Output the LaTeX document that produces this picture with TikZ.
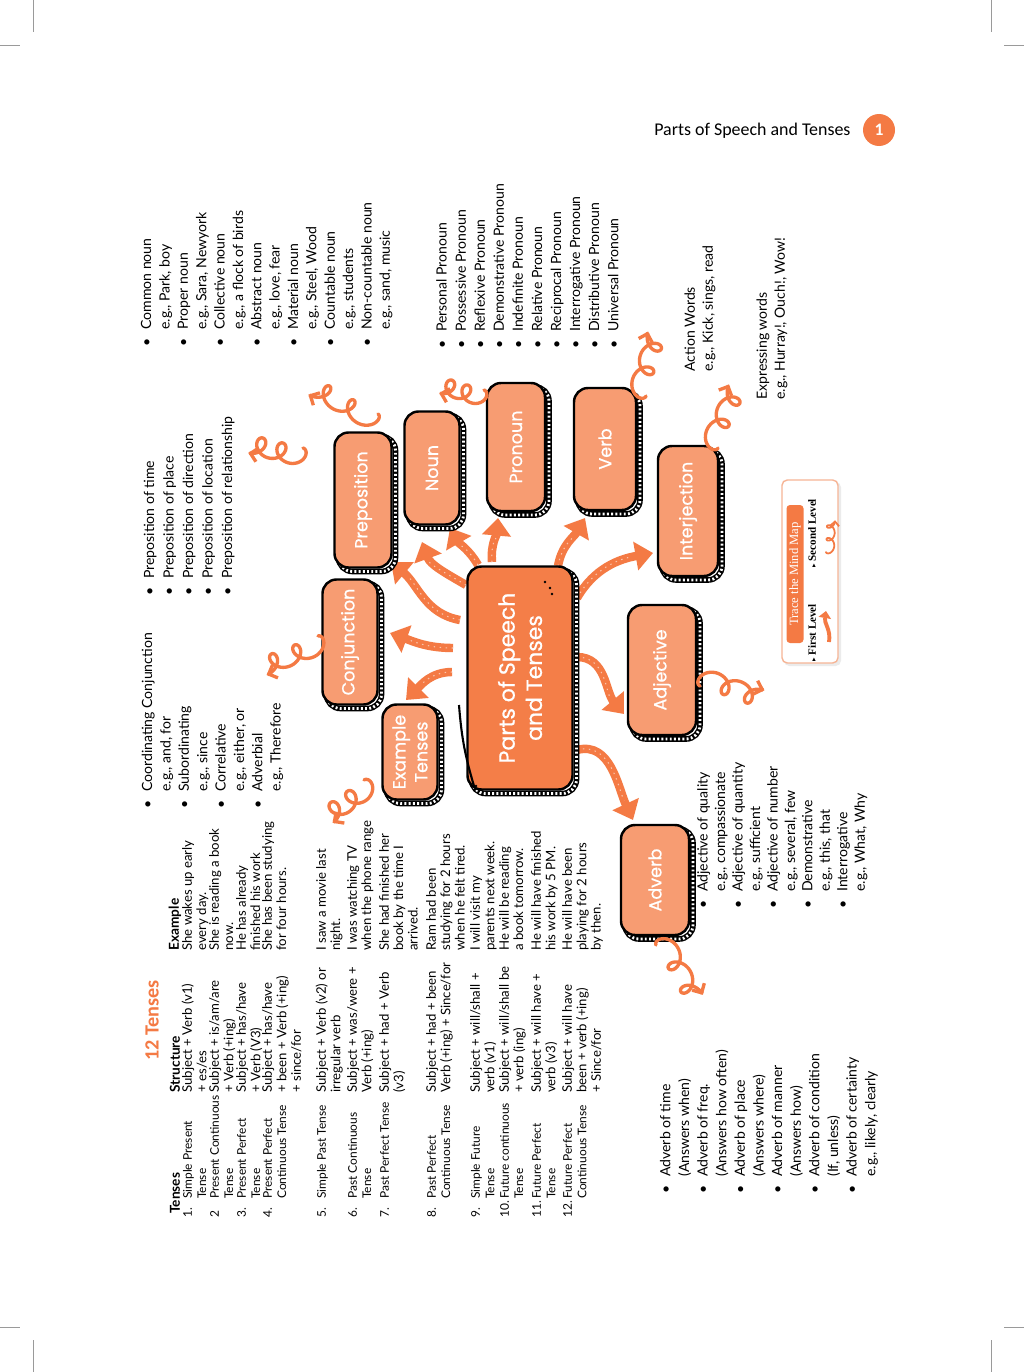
\documentclass[tikz,border=0pt]{standalone}
\usepackage{fontspec}
\setmainfont{Lato}
\newfontfamily\popfont[FakeBold=0.7]{Poppins}
\newfontfamily\calfont{Carlito}
\newfontfamily\serffont{Liberation Serif}
\newfontfamily\djfont{DejaVu Sans}
\usetikzlibrary{arrows.meta}
\definecolor{mainor}{HTML}{F47E48}
\definecolor{subor}{HTML}{F79C72}
\definecolor{arrowor}{HTML}{F47A44}
\definecolor{legbd}{HTML}{F6B596}
\definecolor{cropgr}{HTML}{9A9A9A}
\newcommand\tfont{\fontsize{7.5}{8.2}\selectfont}
\newcommand\lfont[1]{\fontsize{8}{#1}\selectfont}
\newcommand\bigt{\fontsize{12.5}{16}\selectfont}
\newcommand\mmnode[7]{%
  \draw[line width=3.2pt, rounded corners=8pt] (#2-#4/2+4,#3-#5/2+4) rectangle (#2+#4/2+4,#3+#5/2+4);
  \draw[line width=1.6pt, white, dash pattern=on 1.1pt off 1.3pt, rounded corners=8pt] (#2-#4/2+4,#3-#5/2+4) rectangle (#2+#4/2+4,#3+#5/2+4);
  \node[mmbox, fill=#6, minimum width=#5*0.02cm, minimum height=#4*0.02cm] (#1) at (#2,#3) {#7};
}
\newcommand\curl[6]{%
  \coordinate (#1) at (#2,#3);
  \draw[curlst, shift={(#1)}, rotate=#4] plot[domain=0:15.708, samples=110, smooth] ({\x*#5/15.708-#6*sin(\x r)}, {#6*cos(\x r)-#6});
}
\newcommand\trow[6]{%
  \node[tbl, font=\fontsize{6.8}{8.2}\selectfont] (#1n) at (#2-6.6,1218) {\begin{tabular}{@{}l@{}}#3\end{tabular}};
  \node[tbl, font=\fontsize{6.8}{8.2}\selectfont] (#1t) at (#2-6.6,1199) {\begin{tabular}{@{}l@{}}#4\end{tabular}};
  \node[tbl] (#1s) at (#2-6.6,1093) {\begin{tabular}{@{}l@{}}#5\end{tabular}};
  \node[tbl] (#1e) at (#2-6.6,951) {\begin{tabular}{@{}l@{}}#6\end{tabular}};
}
\begin{document}
\begin{tikzpicture}[x=0.02cm,y=-0.02cm,
  mmbox/.style={rotate=90, draw=black, line width=1.4pt, rounded corners=8pt, text=white, align=center, inner sep=0pt, font=\popfont\fontsize{10}{12.5}\selectfont},
  lst/.style={rotate=90, anchor=north west, inner sep=0pt},
  tbl/.style={rotate=90, anchor=north west, inner sep=0pt, font=\tfont},
  hdr/.style={rotate=90, anchor=west, inner sep=0pt, font=\bfseries\fontsize{7.8}{9}\selectfont},
  bigarrow/.style={draw=arrowor, line width=4.8pt, -{Triangle[length=10pt,width=16pt]},
    postaction={draw=white!55!arrowor, line width=0.6pt, dash pattern=on 0.8pt off 2.6pt, shorten >=12pt, -}},
  curlst/.style={draw=arrowor, line width=1.9pt, line cap=round, -{Straight Barb[length=4pt,width=8pt]}},
  cropst/.style={draw=cropgr, line width=0.5pt}]
\fill[white] (0,0) rectangle (1024,1372);
\useasboundingbox (0,0) rectangle (1024,1372);

% crop marks
\draw[cropst] (33,0) -- (33,32);
\draw[cropst] (0,45) -- (20,45);
\draw[cropst] (991,0) -- (991,32);
\draw[cropst] (1004,45) -- (1024,45);
\draw[cropst] (33,1340) -- (33,1372);
\draw[cropst] (0,1327) -- (20,1327);
\draw[cropst] (991,1340) -- (991,1372);
\draw[cropst] (1004,1327) -- (1024,1327);

% header
\node[anchor=west, inner sep=0pt, font=\calfont\fontsize{10.2}{12}\selectfont] (hdrtext) at (654,131) {Parts of Speech and Tenses};
\node[circle, fill=arrowor, minimum size=32*0.02cm, inner sep=0pt, text=white, font=\calfont\bfseries\fontsize{10}{12}\selectfont] (pagenum) at (879,130) {1};

% thick arrows from the centre
\coordinate (a1s) at (452,672); \coordinate (a1e) at (406,700);
\coordinate (a2s) at (453,648); \coordinate (a2e) at (390,633);
\coordinate (a3s) at (460,620); \coordinate (a3e) at (391,562);
\coordinate (a4s) at (466,585); \coordinate (a4e) at (422,542);
\coordinate (a5s) at (478,565); \coordinate (a5e) at (450,528);
\coordinate (a6s) at (492,562); \coordinate (a6e) at (498,518);
\coordinate (a7s) at (558,566); \coordinate (a7e) at (585,518);
\coordinate (a8s) at (577,598); \coordinate (a8e) at (653,553);
\coordinate (a9s) at (577,657); \coordinate (a9e) at (624,714);
\coordinate (a10s) at (577,750); \coordinate (a10e) at (633,820);
\draw[bigarrow] (a1s) to[out=180,in=45] (a1e);
\draw[bigarrow] (a2s) to[out=180,in=-20] (a2e);
\draw[bigarrow] (a3s) to[out=170,in=-40] (a3e);
\draw[bigarrow] (a4s) to[out=150,in=-70] (a4e);
\draw[bigarrow] (a5s) to[out=120,in=-60] (a5e);
\draw[bigarrow] (a6s) to[out=95,in=-95] (a6e);
\draw[bigarrow] (a7s) to[out=80,in=-120] (a7e);
\draw[bigarrow] (a8s) to[out=60,in=190] (a8e);
\draw[bigarrow] (a9s) to[out=0,in=130] (a9e);
\draw[bigarrow] (a10s) to[out=15,in=115] (a10e);

% mind map boxes
\mmnode{center}{520}{678}{105}{223}{mainor}{{\bigt Parts of Speech}\\[3pt]{\bigt and Tenses}}
\mmnode{extense}{410}{752}{55}{95}{subor}{Example\\Tenses}
\mmnode{conj}{350}{642}{55}{125}{subor}{Conjunction}
\mmnode{prep}{363}{500}{57}{135}{subor}{Preposition}
\mmnode{noun}{432}{468}{55}{113}{subor}{Noun}
\mmnode{pron}{516}{447}{58}{128}{subor}{Pronoun}
\mmnode{verb}{605}{449}{62}{122}{subor}{Verb}
\mmnode{interj}{688}{511}{60}{130}{subor}{Interjection}
\mmnode{adj}{662}{670}{68}{130}{subor}{Adjective}
\mmnode{adverb}{655}{880}{68}{110}{subor}{Adverb}

% sketch details on the centre box
\draw[line width=1.2pt] (459,705) to[bend right=6] (474,786);
\fill (545,582) circle (1.3);
\fill (550,588) circle (1.3);
\fill (552,594) circle (1.3);
\fill (476,786) circle (1.3);
\fill (479,790) circle (1.3);

% curly arrows
\curl{c1}{364}{780}{214}{50}{9}
\curl{c2}{318}{636}{201}{62}{9}
\curl{c3}{303}{448}{166}{52}{9}
\curl{c4}{378}{414}{150}{70}{9}
\curl{c5}{484}{390}{163}{42}{8}
\curl{c6}{646}{396}{72}{62}{9}
\curl{c7}{718}{448}{64}{62}{9}
\curl{c8}{700}{686}{-20}{62}{9}
\curl{c9}{656}{945}{-62}{66}{9}

% noun list
\node[lst, font=\lfont{10.45}] (nounlist) at (138,347) {\begin{tabular}{@{}l@{\hspace{5pt}}l@{}}
• & Common noun\\ & e.g., Park, boy\\ • & Proper noun\\ & e.g., Sara, Newyork\\
• & Collective noun\\ & e.g., a flock of birds\\ • & Abstract noun\\ & e.g., love, fear\\
• & Material noun\\ & e.g., Steel, Wood\\ • & Countable noun\\ & e.g., students\\
• & Non-countable noun\\ & e.g., sand, music\end{tabular}};

% pronoun list
\node[lst, font=\lfont{10.85}] (pronlist) at (433,349) {\begin{tabular}{@{}l@{\hspace{5pt}}l@{}}
• & Personal Pronoun\\ • & Possessive Pronoun\\ • & Reflexive Pronoun\\
• & Demonstrative Pronoun\\ • & Indefinite Pronoun\\ • & Relative Pronoun\\
• & Reciprocal Pronoun\\ • & Interrogative Pronoun\\ • & Distributive Pronoun\\
• & Universal Pronoun\end{tabular}};

% verb and interjection
\node[lst, font=\lfont{10.2}] (verbtext) at (682,372) {\begin{tabular}{@{}l@{}}Action Words\\ e.g., Kick, sings, read\end{tabular}};
\node[lst, font=\lfont{10.2}] (interjtext) at (754,400) {\begin{tabular}{@{}l@{}}Expressing words\\ e.g., Hurray!, Ouch!, Wow!\end{tabular}};

% preposition list
\node[lst, font=\lfont{11.1}] (preplist) at (140,596) {\begin{tabular}{@{}l@{\hspace{5pt}}l@{}}
• & Preposition of time\\ • & Preposition of place\\ • & Preposition of direction\\
• & Preposition of location\\ • & Preposition of relationship\end{tabular}};

% conjunction list
\node[lst, font=\lfont{10.45}] (conjlist) at (139,809) {\begin{tabular}{@{}l@{\hspace{5pt}}l@{}}
• & Coordinating Conjunction\\ & e.g., and, for\\ • & Subordinating\\ & e.g., since\\
• & Correlative\\ & e.g., either, or\\ • & Adverbial\\ & e.g., Therefore\end{tabular}};

% adjective list
\node[lst, font=\lfont{9.95}] (adjlist) at (695,909) {\begin{tabular}{@{}l@{\hspace{5pt}}l@{}}
• & Adjective of quality\\ & e.g., compassionate\\ • & Adjective of quantity\\ & e.g., sufficient\\
• & Adjective of number\\ & e.g., several, few\\ • & Demonstrative\\ & e.g., this, that\\
• & Interrogative\\ & e.g., What, Why\end{tabular}};

% adverb list
\node[lst, font=\lfont{10.6}] (advlist) at (657,1194) {\begin{tabular}{@{}l@{\hspace{5pt}}l@{}}
• & Adverb of time\\ & (Answers when)\\ • & Adverb of freq.\\ & (Answers how often)\\
• & Adverb of place\\ & (Answers where)\\ • & Adverb of manner\\ & (Answers how)\\
• & Adverb of condition\\ & (If, unless)\\ • & Adverb of certainty\\ & e.g., likely, clearly\end{tabular}};

% tenses table
\node[rotate=90, anchor=west, inner sep=0pt, text=arrowor, font=\calfont\bfseries\fontsize{11.5}{14}\selectfont] (tentitle) at (152,1061) {12 Tenses};
\node[hdr] (hten) at (175,1214) {Tenses};
\node[hdr] (hstr) at (175,1093) {Structure};
\node[hdr] (hex) at (175,951) {Example};
\trow{r1}{188}{1.}{Simple Present\\Tense}{Subject + Verb (v1)\\+ es/es}{She wakes up early\\every day.}
\trow{r2}{215}{2}{Present Continuous\\Tense}{Subject + is/am/are\\+ Verb (+ing)}{She is reading a book\\now.}
\trow{r3}{242}{3.}{Present Perfect\\Tense}{Subject + has/have\\+ Verb (V3)}{He has already\\finished his work}
\trow{r4}{268}{4.}{Present Perfect\\Continuous Tense}{Subject + has/have\\+ been + Verb (+ing)\\+ since/for}{She has been studying\\for four hours.}
\trow{r5}{322}{5.}{Simple Past Tense}{Subject + Verb (v2) or\\irregular verb}{I saw a movie last\\night.}
\trow{r6}{353}{6.}{Past Continuous\\Tense}{Subject + was/were +\\Verb (+ing)}{I was watching TV\\when the phone range}
\trow{r7}{385}{7.}{Past Perfect Tense}{Subject + had + Verb\\(v3)}{She had finished her\\book by the time I\\arrived.}
\trow{r8}{432}{8.}{Past Perfect\\Continuous Tense}{Subject + had + been\\Verb (+ing) + Since/for}{Ram had been\\studying for 2 hours\\when he felt tired.}
\trow{r9}{476}{9.}{Simple Future\\Tense}{Subject + will/shall +\\verb (v1)}{I will visit my\\parents next week.}
\trow{r10}{505}{10.}{Future continuous\\Tense}{Subject + will/shall be\\+ verb (ing)}{He will be reading\\a book tomorrow.}
\trow{r11}{537}{11.}{Future Perfect\\Tense}{Subject + will have +\\verb (v3)}{He will have finished\\his work by 5 PM.}
\trow{r12}{568}{12.}{Future Perfect\\Continuous Tense}{Subject + will have\\been + verb (+ing)\\+ Since/for}{He will have been\\playing for 2 hours\\by then.}

% legend
\fill[black!8, rounded corners=3pt] (784,482) rectangle (841,666);
\draw[legbd, fill=white, rounded corners=3pt, line width=0.8pt] (782,480) rectangle (838,663);
\node[rotate=90, fill=arrowor, rounded corners=2pt, text=white, inner sep=0pt, minimum width=138*0.02cm, minimum height=17*0.02cm, font=\serffont\fontsize{7.2}{8}\selectfont] (legtitle) at (795,574) {Trace the Mind Map};
\node[rotate=90, anchor=west, inner sep=0pt, font=\serffont\bfseries\fontsize{6.3}{7}\selectfont] (legfirst) at (812,662) {{\djfont\fontsize{4}{5}\selectfont ▸} First Level};
\node[rotate=90, anchor=west, inner sep=0pt, font=\serffont\bfseries\fontsize{6.3}{7}\selectfont] (legsecond) at (812,568) {{\djfont\fontsize{4}{5}\selectfont ▸} Second Level};
\coordinate (lfs) at (829,642); \coordinate (lfe) at (826,611);
\draw[draw=arrowor, line width=2.2pt, -{Triangle[length=4pt,width=7pt]}] (lfs) to[out=80,in=-100] (lfe);
\draw[draw=arrowor, line width=1pt, line cap=round, -{Straight Barb[length=2.5pt,width=5pt]}, shift={(826,552)}, rotate=88] plot[domain=0:15.708, samples=80, smooth] ({\x*32/15.708-4*sin(\x r)}, {-4*cos(\x r)+4});
\end{tikzpicture}
\end{document}
